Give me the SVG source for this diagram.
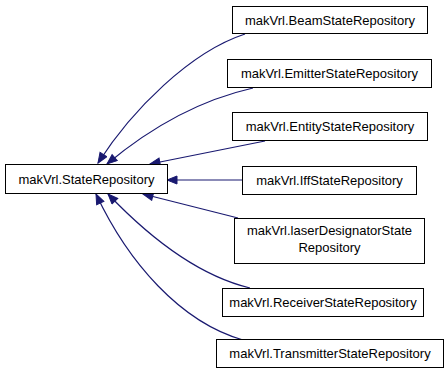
<svg xmlns="http://www.w3.org/2000/svg" width="448" height="376" viewBox="0 0 448 376">
<style>
.box{fill:#fff;stroke:#000;stroke-width:1}
.t{font-family:"Liberation Sans",Arial,sans-serif;font-size:13px;fill:#000;text-anchor:middle}
.e{fill:none;stroke:#191970;stroke-width:1.2}
</style>
<defs>
<marker id="ah" markerUnits="userSpaceOnUse" markerWidth="12" markerHeight="10" refX="11" refY="4.5" orient="auto">
<path d="M1,0.5 L11,4.5 L1,8.5 z" fill="#191970" stroke="#191970"/>
</marker>
</defs>
<rect width="448" height="376" fill="#fff"/>
<g id="edges">
<path class="e" d="M245,34 C190,52 132,110 98,163" marker-end="url(#ah)"/>
<path class="e" d="M253,88 C200,100 150,128 107,164" marker-end="url(#ah)"/>
<path class="e" d="M265,141 L150,164" marker-end="url(#ah)"/>
<path class="e" d="M242,180 L167,180" marker-end="url(#ah)"/>
<path class="e" d="M238,218 L143,194" marker-end="url(#ah)"/>
<path class="e" d="M250,288 C200,276 150,238 108,194" marker-end="url(#ah)"/>
<path class="e" d="M243,340 C180,322 128,262 96,194" marker-end="url(#ah)"/>
</g>
<g id="StateRepository"><rect class="box" x="5.5" y="164.5" width="162" height="29"/><text class="t" x="86.5" y="183.5">makVrl.StateRepository</text></g>
<g id="BeamStateRepository"><rect class="box" x="232.5" y="6.5" width="195" height="27"/><text class="t" x="330" y="24.5">makVrl.BeamStateRepository</text></g>
<g id="EmitterStateRepository"><rect class="box" x="227.5" y="59.5" width="204" height="28"/><text class="t" x="329.5" y="78">makVrl.EmitterStateRepository</text></g>
<g id="EntityStateRepository"><rect class="box" x="232.5" y="112.5" width="195" height="28"/><text class="t" x="330" y="131">makVrl.EntityStateRepository</text></g>
<g id="IffStateRepository"><rect class="box" x="242.5" y="166.5" width="174" height="28"/><text class="t" x="329.5" y="185">makVrl.IffStateRepository</text></g>
<g id="laserDesignatorStateRepository"><rect class="box" x="234.5" y="218.5" width="190" height="45"/><text class="t" x="329.5" y="235">makVrl.laserDesignatorState</text><text class="t" x="329.5" y="252">Repository</text></g>
<g id="ReceiverStateRepository"><rect class="box" x="222.5" y="288.5" width="201" height="28"/><text class="t" x="323" y="307">makVrl.ReceiverStateRepository</text></g>
<g id="TransmitterStateRepository"><rect class="box" x="216.5" y="339.5" width="227" height="28"/><text class="t" x="330" y="358">makVrl.TransmitterStateRepository</text></g>
</svg>
